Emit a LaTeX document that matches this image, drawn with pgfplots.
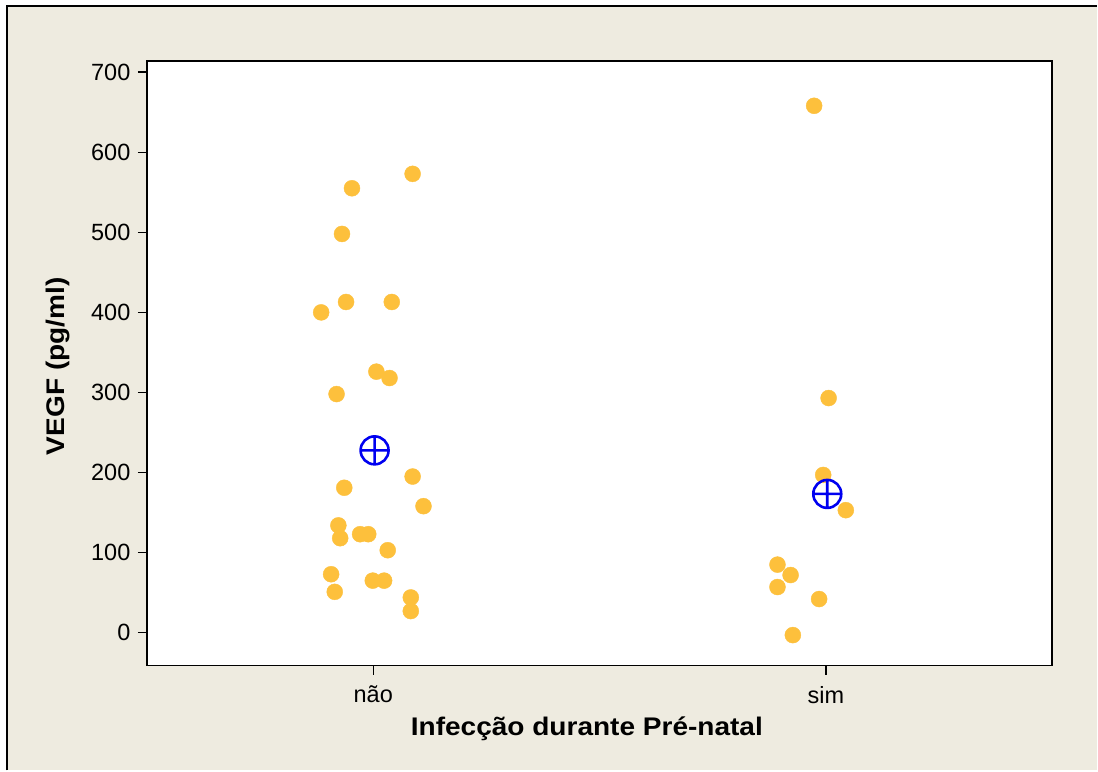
\documentclass[border=0pt]{standalone}
\usepackage{pgfplots}
\pgfplotsset{compat=1.18}
\usepackage{fontspec}
\setmainfont{Liberation Sans}
\newfontfamily\labfont[FakeStretch=1.1]{Liberation Sans}
\definecolor{bgbeige}{RGB}{238,235,224}
\definecolor{dotyel}{RGB}{253,192,60}
\definecolor{meanblue}{RGB}{0,0,240}
\begin{document}
\begin{tikzpicture}[x=1pt,y=1pt]
\fill[white] (0,0) rectangle (1098,771);
\fill[bgbeige] (7,0) rectangle (1098,765);
\draw[line width=1.6pt] (7,0) -- (7,765) -- (1098,765);
\begin{axis}[
  at={(147pt,105pt)}, anchor=south west,
  scale only axis, width=906pt, height=605pt,
  xmin=-0.5, xmax=1.5, ymin=-41, ymax=714,
  axis background/.style={fill=white},
  axis line style={line width=1.6pt},
  xtick={0,1}, xticklabels={não,sim},
  ytick={0,100,...,700},
  tick align=outside, major tick length=9pt,
  tick style={line width=1.4pt, black},
  xtick pos=bottom, ytick pos=left,
  /pgf/number format/assume math mode=true,
  xticklabel style={font=\fontsize{23.5}{26}\selectfont, yshift=-8pt},
  yticklabel style={font=\fontsize{23.5}{26}\selectfont, xshift=-4pt},
  xlabel style={font=\labfont\bfseries\fontsize{25.5}{30}\selectfont, at={(axis description cs:0.486,-0.104)}, anchor=center},
  ylabel style={font=\labfont\bfseries\fontsize{25.5}{30}\selectfont, at={(axis description cs:-0.098,0.495)}, anchor=center},
  xlabel={Infecção durante Pré-natal},
  ylabel={VEGF (pg/ml)},
  clip=false,
]
\addplot[only marks, mark=*, mark size=8pt, color=dotyel, mark options={draw=dotyel, fill=dotyel}] coordinates {
(0.087,573) (-0.047,555) (-0.069,498) (-0.060,413) (0.041,413) (-0.115,400)
(0.007,326) (0.036,318) (-0.081,298) (0.087,195) (-0.064,181) (0.111,158)
(-0.077,134) (-0.073,118) (-0.029,123) (-0.011,123) (0.032,103) (-0.093,73)
(-0.085,51) (-0.001,65) (0.024,65) (0.083,44) (0.083,27)
(0.974,658) (1.006,293) (0.994,197) (1.044,153) (0.893,85) (0.922,72)
(0.893,57) (0.985,42) (0.927,-3)
};
\addplot[only marks, mark=oplus, mark size=14pt, color=meanblue, mark options={line width=2.6pt, draw=meanblue, fill=none}] coordinates {
(0.003,227.7) (1.003,173.3)
};
\end{axis}
\end{tikzpicture}
\end{document}
